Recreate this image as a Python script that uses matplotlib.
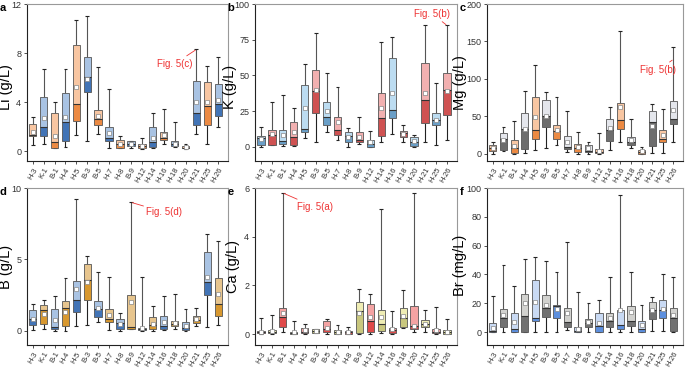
import matplotlib.pyplot as plt
import numpy as np

plt.rcParams['font.family'] = ['Liberation Sans', 'DejaVu Sans']

sites = ['H-3', 'K-1', 'B-1', 'H-4', 'H-5', 'B-3', 'B-5', 'H-7', 'H-8', 'B-9',
         'H-12', 'H-14', 'H-16', 'H-18', 'H-20', 'H-21', 'H-25', 'H-26']

# each row: whisker low, q1, median, q3, whisker high, mean
li = [[0.5, 1.2, 1.35, 2.2, 2.75, 1.6], [0.6, 1.2, 1.95, 4.45, 6.7, 2.7],
      [0.25, 0.25, 0.75, 3.1, 4.0, 1.2], [0.35, 0.8, 2.4, 4.75, 6.7, 2.8],
      [1.3, 2.5, 3.85, 8.65, 10.7, 5.2], [0.85, 4.85, 6.05, 7.65, 11.0, 5.9],
      [1.4, 2.1, 2.6, 3.4, 6.9, 2.9], [0.25, 0.85, 1.05, 1.95, 5.1, 1.5],
      [0.25, 0.3, 0.55, 0.9, 1.2, 0.6], [0.3, 0.4, 0.6, 0.8, 0.85, 0.6],
      [0.2, 0.25, 0.4, 0.6, 1.05, 0.45], [0.25, 0.35, 0.75, 1.95, 3.1, 1.1],
      [0.55, 0.9, 1.05, 1.6, 3.45, 1.3], [0.35, 0.45, 0.55, 0.85, 2.4, 0.6],
      [0.2, 0.25, 0.3, 0.4, 0.6, 0.35], [1.4, 2.1, 3.1, 5.7, 8.3, 4.0],
      [0.55, 2.15, 3.7, 5.65, 6.95, 4.0], [2.0, 2.85, 3.85, 5.5, 7.7, 4.2]]

k = [[0, 1.5, 6, 7.3, 14, 5.5], [1, 1.5, 8, 12, 31.5, 9],
     [0.5, 2, 4, 12, 36, 8], [0.5, 1.5, 6.5, 17, 27, 10],
     [6, 10, 12.5, 43, 58, 27], [3, 23.5, 39, 53.5, 80, 40],
     [10, 15.5, 21, 31, 52, 25], [5, 8, 12, 20.5, 42, 17],
     [0, 3.5, 7.5, 10.5, 13, 7], [2, 3, 4.5, 10.5, 21, 7],
     [0, 0, 2, 5, 11, 3], [3, 7.5, 20, 37.5, 73.5, 27],
     [9, 20, 26, 62, 77, 38], [3, 7, 9.5, 11, 15, 9],
     [0, 0.5, 3.5, 7, 8, 4], [3.5, 16.5, 32.5, 59, 85, 38],
     [1.5, 15.5, 19, 23.5, 45, 19], [5, 22, 40, 51.5, 85, 39]]

mg = [[0, 3, 7, 12, 16, 8], [3, 5, 20, 28, 36, 18],
      [0, 1, 8, 18, 43, 10], [1, 6, 33, 54, 84, 33],
      [5, 20, 31, 76, 119, 49], [7, 36, 50, 71, 82, 50],
      [12, 19, 30, 38, 76, 32], [2, 6, 9, 23, 57, 15],
      [0, 2, 8, 13, 29, 9], [0, 2, 4, 12, 15, 7],
      [0, 0.5, 2, 6, 28, 4], [5, 17, 31, 46, 62, 34],
      [16, 33, 45, 68, 164, 62], [8, 12, 15, 22, 46, 18],
      [0, 0, 2, 5, 9, 3], [1, 10, 42, 57, 66, 37],
      [1, 15, 20, 31, 60, 25], [16, 39, 46, 70, 142, 58]]

b = [[0.05, 0.4, 0.85, 1.45, 1.85, 0.85], [0.15, 0.5, 1.45, 1.8, 2.15, 1.2],
     [0, 0.1, 0.25, 1.55, 2.4, 0.75], [0, 0.3, 1.6, 2.05, 3.7, 1.3],
     [0.35, 1.3, 2.15, 3.5, 9.25, 2.9], [0.4, 2.15, 3.55, 4.7, 5.25, 3.4],
     [0.6, 0.95, 1.5, 2.1, 4.1, 1.6], [0.05, 0.6, 0.85, 1.55, 3.8, 1.1],
     [0, 0.15, 0.55, 0.85, 1.25, 0.5], [0.1, 0.15, 0.25, 2.5, 9.0, 2.0],
     [0, 0.02, 0.1, 0.2, 3.8, 0.2], [0, 0.1, 0.4, 0.95, 1.7, 0.5],
     [0.05, 0.1, 0.35, 1.05, 2.45, 0.6], [0.1, 0.35, 0.45, 0.7, 2.6, 0.55],
     [0, 0.05, 0.2, 0.6, 1.55, 0.3], [0.35, 0.55, 0.75, 1.05, 1.6, 0.8],
     [0.25, 2.5, 3.45, 5.5, 6.8, 3.8], [0.4, 1.05, 1.9, 3.7, 6.3, 2.6]]

ca = [[0, 0.03, 0.08, 0.12, 0.65, 0.1], [0, 0.05, 0.1, 0.18, 0.77, 0.12],
      [0.1, 0.3, 0.7, 1.05, 5.8, 0.85], [0, 0.02, 0.05, 0.1, 0.55, 0.08],
      [0.02, 0.05, 0.1, 0.25, 0.43, 0.15], [0.03, 0.06, 0.12, 0.2, 0.22, 0.12],
      [0.02, 0.07, 0.2, 0.55, 0.63, 0.25], [0, 0.02, 0.08, 0.18, 0.38, 0.1],
      [0, 0.02, 0.07, 0.13, 0.3, 0.08], [0.02, 0.05, 0.95, 1.3, 1.87, 0.85],
      [0.02, 0.1, 0.52, 1.22, 1.65, 0.7], [0.03, 0.12, 0.42, 1.0, 5.15, 0.7],
      [0, 0.05, 0.15, 0.25, 0.95, 0.2], [0.25, 0.3, 0.65, 1.05, 1.83, 0.75],
      [0.08, 0.2, 0.35, 1.15, 5.8, 0.35], [0.1, 0.3, 0.42, 0.57, 0.97, 0.42],
      [0.02, 0.05, 0.1, 0.22, 1.1, 0.15], [0, 0.02, 0.08, 0.18, 0.62, 0.1]]

br = [[0, 0, 0.5, 6.5, 25, 3], [0, 3.5, 9.5, 16, 46.5, 12],
      [0, 0, 2, 13, 32, 7], [0, 0, 11, 26.5, 50.5, 20],
      [0, 7.5, 9.5, 36, 52, 21], [0, 10.5, 17, 26, 49.5, 19],
      [0, 9.5, 18, 18.5, 41.5, 16], [1.5, 3.5, 7, 16.5, 62.5, 13],
      [0, 0, 1, 3.5, 28, 2], [0, 3.5, 6, 9, 20.5, 7],
      [0, 0, 4, 13.5, 22.5, 6], [0, 3.5, 7.5, 13, 38, 10],
      [0, 2, 5, 15.5, 95.5, 15], [0, 4.5, 7.5, 18, 41.5, 14],
      [0, 0, 2, 8, 19, 5], [0.5, 9, 15, 21, 24.5, 15],
      [0.5, 10, 15, 22, 40, 16], [0, 1, 10, 17, 38, 12]]

# ======================================================================

# (dark, light) colour pairs, alternating along the sites
orange = ('#ec8a43', '#f8c6a2')
blue = ('#4274b6', '#a9c3e3')
skyblue = ('#6a9fc8', '#bcdcf1')
red = ('#cf5252', '#f2b0b0')
grey = ('#6d6d6d', '#e4e6ec')
tan = ('#d8982f', '#e7c58e')
redb = ('#e04a4a', '#f4a3a3')
olive = ('#c9c77e', '#efedb4')
blue2 = ('#5c8fde', '#c9daf4')
grey2 = ('#727272', '#d2d2cf')

# letter, data, y label, ylim, yticks, colours, axes box, y label position
panels = [
    ('a', li, 'Li (g/L)', (-0.8, 12), [0, 4, 8, 12], (orange, blue), [0.039, 0.5625, 0.294, 0.4265], (-0.068, 0.47)),
    ('b', k, 'K (g/L)', (-10, 100), [0, 25, 50, 75, 100], (skyblue, red), [0.372, 0.5625, 0.295, 0.4265], (-0.088, 0.47)),
    ('c', mg, 'Mg (g/L)', (-10, 200), [0, 50, 100, 150, 200], (orange, grey), [0.711, 0.5625, 0.286, 0.4265], (-0.10, 0.5)),
    ('d', b, 'B (g/L)', (-1, 10), [0, 5, 10], (blue, tan), [0.039, 0.0625, 0.294, 0.4265], (-0.068, 0.5)),
    ('e', ca, 'Ca (g/L)', (-0.45, 6), [0, 2, 4, 6], (redb, olive), [0.372, 0.0625, 0.295, 0.4265], (-0.075, 0.5)),
    ('f', br, 'Br (mg/L)', (-9, 100), [0, 20, 40, 60, 80, 100], (blue2, grey2), [0.711, 0.0625, 0.286, 0.4265], (-0.10, 0.51)),
]

fig = plt.figure(figsize=(6.85, 3.68), dpi=100)
x = np.arange(len(sites))
w = 0.68

axes = {}
for letter, data, ylabel, ylim, yticks, pair, pos, labxy in panels:
    ax = fig.add_axes(pos)
    axes[letter] = ax
    d = np.array(data, dtype=float)
    lo, q1, med, q3, hi, mean = d.T
    dark = [pair[i % 2][0] for i in range(len(sites))]
    light = [pair[i % 2][1] for i in range(len(sites))]

    ax.vlines(x, lo, q1, color='#222222', lw=0.8, zorder=1)
    ax.vlines(x, q3, hi, color='#555555', lw=0.8, zorder=1)
    ax.hlines(lo, x - 0.18, x + 0.18, color='#222222', lw=0.8)
    ax.hlines(hi, x - 0.18, x + 0.18, color='#222222', lw=0.8)
    ax.bar(x, med - q1, w, bottom=q1, color=dark, edgecolor='#555555', lw=0.6, zorder=2)
    ax.bar(x, q3 - med, w, bottom=med, color=light, edgecolor='#555555', lw=0.6, zorder=2)
    ax.hlines(med, x - w / 2, x + w / 2, color='#333333', lw=0.8, zorder=3)
    ax.scatter(x, mean, marker='s', s=5, facecolor='white', edgecolor='#888888', lw=0.5, zorder=4)

    ax.set_xlim(-0.55, 17.9)
    ax.set_ylim(*ylim)
    ax.set_yticks(yticks)
    ax.set_xticks(x)
    ax.set_xticklabels(sites, rotation=60, ha='right', rotation_mode='anchor', fontsize=5.5)
    ax.tick_params(axis='y', labelsize=6.5, length=2.5, width=0.6, pad=1.5, colors='#333333')
    ax.tick_params(axis='x', length=2.5, width=0.6, pad=1.5, colors='#333333')
    ax.set_ylabel(ylabel, fontsize=10.5)
    ax.yaxis.set_label_coords(*labxy)
    for side in ['top', 'right']:
        ax.spines[side].set_color('#999999')
        ax.spines[side].set_linewidth(0.8)
    for side in ['left', 'bottom']:
        ax.spines[side].set_color('#222222')
        ax.spines[side].set_linewidth(0.8)
    fig.text(pos[0] - 0.04, pos[1] + pos[3] - 0.02, letter, fontsize=8, fontweight='bold')

red_txt = '#ee3333'
axes['a'].annotate('Fig. 5(c)', xy=(15, 8.3), xytext=(11.4, 6.9), fontsize=7, color=red_txt,
                   arrowprops=dict(arrowstyle='-', color=red_txt, lw=0.6, shrinkA=0, shrinkB=1))
axes['b'].annotate('Fig. 5(b)', xy=(17, 85), xytext=(14.0, 91), fontsize=7, color=red_txt,
                   arrowprops=dict(arrowstyle='-', color=red_txt, lw=0.6, shrinkA=0, shrinkB=1))
axes['c'].annotate('Fig. 5(b)', xy=(17, 126), xytext=(13.9, 108), fontsize=7, color=red_txt,
                   arrowprops=dict(arrowstyle='-', color=red_txt, lw=0.6, shrinkA=0, shrinkB=1))
axes['d'].annotate('Fig. 5(d)', xy=(9, 9.0), xytext=(10.4, 8.1), fontsize=7, color=red_txt,
                   arrowprops=dict(arrowstyle='-', color=red_txt, lw=0.6, shrinkA=0, shrinkB=1))
axes['e'].annotate('Fig. 5(a)', xy=(2, 5.8), xytext=(3.3, 5.1), fontsize=7, color=red_txt,
                   arrowprops=dict(arrowstyle='-', color=red_txt, lw=0.6, shrinkA=0, shrinkB=1))

plt.savefig('out.png', dpi=100)
